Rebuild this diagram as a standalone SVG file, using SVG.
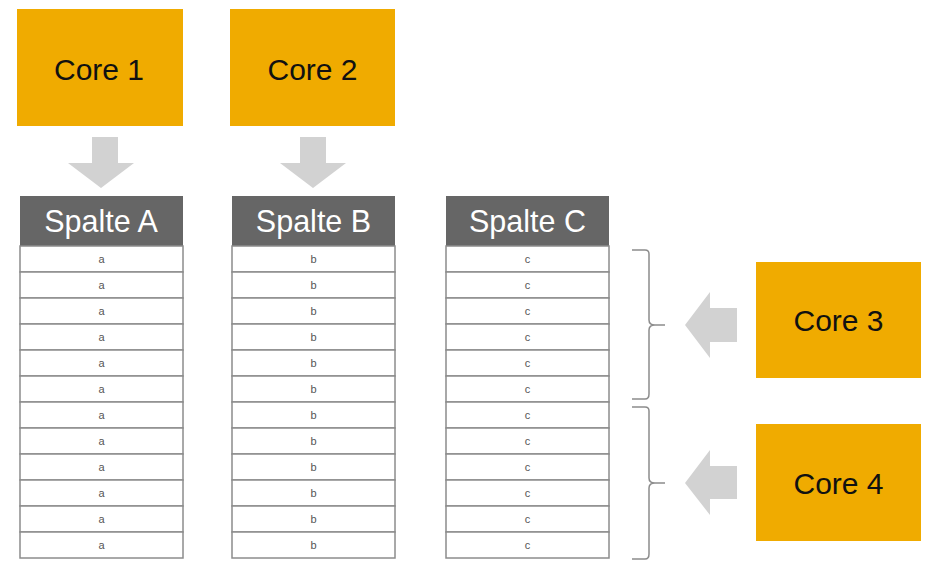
<svg xmlns="http://www.w3.org/2000/svg" width="938" height="573" viewBox="0 0 938 573">
<defs>
<style>
.core{fill:#F0AB00}
.ct{font-family:"Liberation Sans",Arial,sans-serif;font-size:30px;fill:#111;text-anchor:middle}
.hd{fill:#666666}
.ht{font-family:"Liberation Sans",Arial,sans-serif;font-size:30.5px;fill:#fff;text-anchor:middle}
.row{fill:#fff;stroke:#8c8c8c;stroke-width:1.5}
.rt{font-family:"Liberation Sans",Arial,sans-serif;font-size:11px;fill:#555;text-anchor:middle}
.arr{fill:#d2d2d2}
.br{fill:none;stroke:#8c8c8c;stroke-width:1.5}
</style>
</defs>
<rect width="938" height="573" fill="#fff"/>
<g id="core1"><rect class="core" x="17" y="9" width="166" height="117"/><text class="ct" x="99" y="80">Core 1</text></g>
<g id="core2"><rect class="core" x="230" y="9" width="165" height="117"/><text class="ct" x="312.5" y="80">Core 2</text></g>
<g id="core3"><rect class="core" x="756" y="262" width="165" height="116"/><text class="ct" x="838.5" y="331">Core 3</text></g>
<g id="core4"><rect class="core" x="756" y="424" width="165" height="117"/><text class="ct" x="838.5" y="494">Core 4</text></g>
<g id="spalteA">
<rect class="hd" x="20" y="196" width="163" height="50"/><text class="ht" x="101" y="232">Spalte A</text>
<rect class="row" x="20" y="246" width="163" height="26"/><text class="rt" x="101.5" y="263">a</text>
<rect class="row" x="20" y="272" width="163" height="26"/><text class="rt" x="101.5" y="289">a</text>
<rect class="row" x="20" y="298" width="163" height="26"/><text class="rt" x="101.5" y="315">a</text>
<rect class="row" x="20" y="324" width="163" height="26"/><text class="rt" x="101.5" y="341">a</text>
<rect class="row" x="20" y="350" width="163" height="26"/><text class="rt" x="101.5" y="367">a</text>
<rect class="row" x="20" y="376" width="163" height="26"/><text class="rt" x="101.5" y="393">a</text>
<rect class="row" x="20" y="402" width="163" height="26"/><text class="rt" x="101.5" y="419">a</text>
<rect class="row" x="20" y="428" width="163" height="26"/><text class="rt" x="101.5" y="445">a</text>
<rect class="row" x="20" y="454" width="163" height="26"/><text class="rt" x="101.5" y="471">a</text>
<rect class="row" x="20" y="480" width="163" height="26"/><text class="rt" x="101.5" y="497">a</text>
<rect class="row" x="20" y="506" width="163" height="26"/><text class="rt" x="101.5" y="523">a</text>
<rect class="row" x="20" y="532" width="163" height="26"/><text class="rt" x="101.5" y="549">a</text>
</g>
<g id="spalteB">
<rect class="hd" x="232" y="196" width="163" height="50"/><text class="ht" x="313.5" y="232">Spalte B</text>
<rect class="row" x="232" y="246" width="163" height="26"/><text class="rt" x="313.5" y="263">b</text>
<rect class="row" x="232" y="272" width="163" height="26"/><text class="rt" x="313.5" y="289">b</text>
<rect class="row" x="232" y="298" width="163" height="26"/><text class="rt" x="313.5" y="315">b</text>
<rect class="row" x="232" y="324" width="163" height="26"/><text class="rt" x="313.5" y="341">b</text>
<rect class="row" x="232" y="350" width="163" height="26"/><text class="rt" x="313.5" y="367">b</text>
<rect class="row" x="232" y="376" width="163" height="26"/><text class="rt" x="313.5" y="393">b</text>
<rect class="row" x="232" y="402" width="163" height="26"/><text class="rt" x="313.5" y="419">b</text>
<rect class="row" x="232" y="428" width="163" height="26"/><text class="rt" x="313.5" y="445">b</text>
<rect class="row" x="232" y="454" width="163" height="26"/><text class="rt" x="313.5" y="471">b</text>
<rect class="row" x="232" y="480" width="163" height="26"/><text class="rt" x="313.5" y="497">b</text>
<rect class="row" x="232" y="506" width="163" height="26"/><text class="rt" x="313.5" y="523">b</text>
<rect class="row" x="232" y="532" width="163" height="26"/><text class="rt" x="313.5" y="549">b</text>
</g>
<g id="spalteC">
<rect class="hd" x="446" y="196" width="163" height="50"/><text class="ht" x="527.5" y="232">Spalte C</text>
<rect class="row" x="446" y="246" width="163" height="26"/><text class="rt" x="527.5" y="263">c</text>
<rect class="row" x="446" y="272" width="163" height="26"/><text class="rt" x="527.5" y="289">c</text>
<rect class="row" x="446" y="298" width="163" height="26"/><text class="rt" x="527.5" y="315">c</text>
<rect class="row" x="446" y="324" width="163" height="26"/><text class="rt" x="527.5" y="341">c</text>
<rect class="row" x="446" y="350" width="163" height="26"/><text class="rt" x="527.5" y="367">c</text>
<rect class="row" x="446" y="376" width="163" height="26"/><text class="rt" x="527.5" y="393">c</text>
<rect class="row" x="446" y="402" width="163" height="26"/><text class="rt" x="527.5" y="419">c</text>
<rect class="row" x="446" y="428" width="163" height="26"/><text class="rt" x="527.5" y="445">c</text>
<rect class="row" x="446" y="454" width="163" height="26"/><text class="rt" x="527.5" y="471">c</text>
<rect class="row" x="446" y="480" width="163" height="26"/><text class="rt" x="527.5" y="497">c</text>
<rect class="row" x="446" y="506" width="163" height="26"/><text class="rt" x="527.5" y="523">c</text>
<rect class="row" x="446" y="532" width="163" height="26"/><text class="rt" x="527.5" y="549">c</text>
</g>
<g id="connectors">
<polygon class="arr" points="92,137 118,137 118,163 134,163 101,188 68,163 92,163"/>
<polygon class="arr" points="300,137 326,137 326,163 346,163 313,188 280,163 300,163"/>
<polygon class="arr" points="737,308 737,342 710,342 710,358 685,325 710,292 710,308"/>
<polygon class="arr" points="737,466 737,499 710,499 710,515 685,483 710,450 710,466"/>
<path class="br" d="M632,250 H645 Q649,250 649,254 V320 Q649,325 655,325 H665 M655,325 Q649,325 649,330 V394 Q649,399 645,399 H632"/>
<path class="br" d="M632,407 H645 Q649,407 649,411 V478 Q649,483 655,483 H665 M655,483 Q649,483 649,488 V554 Q649,559 645,559 H632"/>
</g>
</svg>
